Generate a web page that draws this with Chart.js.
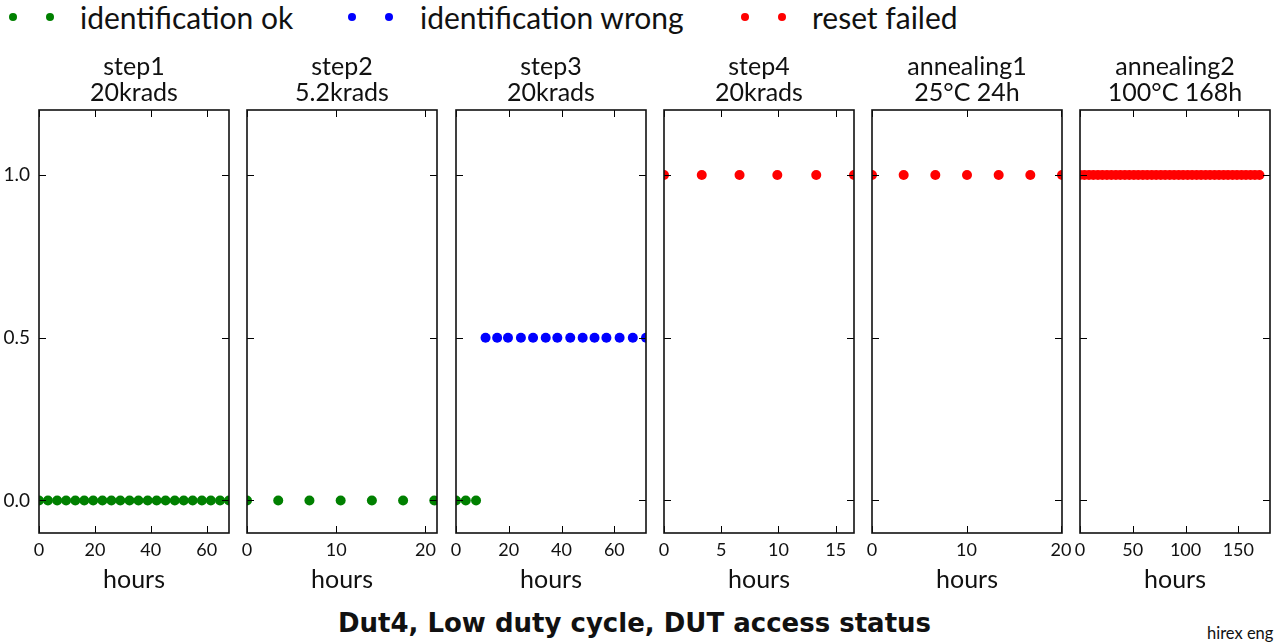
<!DOCTYPE html>
<html>
<head>
<meta charset="utf-8">
<script src="https://cdn.jsdelivr.net/npm/chart.js@4.4.1/dist/chart.umd.min.js"></script>
<style>
body { margin: 0; background: #fff; font-family: Lato, sans-serif; }
#fig { position: relative; width: 1279px; height: 642px; overflow: hidden; background: #fff; }
#fig canvas { position: absolute; top: 0; }
.dot { position: absolute; width: 8px; height: 8px; border-radius: 50%; top: 13px; }
.lt { position: absolute; top: 0px; font-size: 30px; line-height: 34px; color: #111; white-space: nowrap; }
#suptitle { position: absolute; left: 0; width: 1269px; top: 606px; text-align: center; font-family: 'DejaVu Sans', sans-serif; font-weight: bold; font-size: 26px; line-height: 34px; color: #111; }
#note { position: absolute; left: 1207px; top: 623px; font-size: 16.5px; line-height: 20px; color: #111; }
</style>
</head>
<body>
<div id="fig">
  <div id="suptitle">Dut4, Low duty cycle, DUT access status</div>
  <div id="note">hirex eng</div>
</div>
<script>
// status levels: 0 = identification ok, 0.5 = identification wrong, 1 = reset failed
var statusNames = ['identification ok', 'identification wrong', 'reset failed'];
var statusLevels = [0, 0.5, 1];
var statusColors = ['#008000', '#0000ff', '#ff0000'];

var panelTitles = [['step1', '20krads'], ['step2', '5.2krads'], ['step3', '20krads'],
                   ['step4', '20krads'], ['annealing1', '25°C 24h'], ['annealing2', '100°C 168h']];

var step1Hours = [0, 3.2, 6.5, 9.7, 13, 16.2, 19.4, 22.7, 25.9, 29.1, 32.4, 35.6, 38.9, 42.1, 45.3, 48.6, 51.8, 55, 58.3, 61.5, 64.8, 68];
var step1Status = [0, 0, 0, 0, 0, 0, 0, 0, 0, 0, 0, 0, 0, 0, 0, 0, 0, 0, 0, 0, 0, 0];

var step2Hours = [0, 3.5, 7, 10.5, 14, 17.5, 21];
var step2Status = [0, 0, 0, 0, 0, 0, 0];

var step3Hours = [0, 3.7, 7.6, 11.2, 15.6, 19.7, 24.6, 29.2, 34, 38.4, 43.3, 48, 52.5, 57, 62, 67, 72];
var step3Status = [0, 0, 0, 0.5, 0.5, 0.5, 0.5, 0.5, 0.5, 0.5, 0.5, 0.5, 0.5, 0.5, 0.5, 0.5, 0.5];

var step4Hours = [0, 3.3, 6.6, 9.9, 13.3, 16.6];
var step4Status = [1, 1, 1, 1, 1, 1];

var anneal1Hours = [0, 3.35, 6.7, 10.05, 13.4, 16.75, 20.1];
var anneal1Status = [1, 1, 1, 1, 1, 1, 1];

var anneal2Hours = [0, 4.2, 8.5, 12.7, 17, 21.2, 25.5, 29.7, 34, 38.2, 42.5, 46.7, 51, 55.2, 59.5, 63.7, 68, 72.2, 76.5, 80.7,
                    85, 89.2, 93.5, 97.7, 102, 106.2, 110.5, 114.7, 119, 123.2, 127.5, 131.7, 136, 140.2, 144.5, 148.7, 153, 157.2, 161.5, 165.7, 170];
var anneal2Status = [1, 1, 1, 1, 1, 1, 1, 1, 1, 1, 1, 1, 1, 1, 1, 1, 1, 1, 1, 1,
                     1, 1, 1, 1, 1, 1, 1, 1, 1, 1, 1, 1, 1, 1, 1, 1, 1, 1, 1, 1, 1];

var panelHours = [step1Hours, step2Hours, step3Hours, step4Hours, anneal1Hours, anneal2Hours];
var panelStatus = [step1Status, step2Status, step3Status, step4Status, anneal1Status, anneal2Status];
var xMax = [68, 21.3, 72, 16.6, 20.1, 180];
var xTicks = [[0, 20, 40, 60], [0, 10, 20], [0, 20, 40, 60], [0, 5, 10, 15], [0, 10, 20], [0, 50, 100, 150]];
var yTicks = [0, 0.5, 1];

var panelLeft = [39, 247, 456, 664, 872, 1080];
var panelWidth = 190;
var FONT = "Lato, sans-serif";

var fig = document.getElementById('fig');

// legend, two markers per entry like matplotlib
var legDots = [[13, 50], [352, 389], [745, 782]];
var legText = [80, 420, 812];
statusNames.forEach(function (name, i) {
    legDots[i].forEach(function (cx) {
        var d = document.createElement('div');
        d.className = 'dot';
        d.style.left = (cx - 4) + 'px';
        d.style.background = statusColors[i];
        fig.appendChild(d);
    });
    var t = document.createElement('div');
    t.className = 'lt';
    t.style.left = legText[i] + 'px';
    t.textContent = name;
    fig.appendChild(t);
});

// frame with inward ticks on all four sides
var frameTicks = {
    id: 'frameTicks',
    afterDraw: function (chart) {
        var ctx = chart.ctx, a = chart.chartArea, x = chart.scales.x, y = chart.scales.y;
        ctx.save();
        ctx.strokeStyle = '#000';
        ctx.lineWidth = 1;
        ctx.beginPath();
        x.ticks.forEach(function (t) {
            var px = Math.round(x.getPixelForValue(t.value)) + 0.5;
            ctx.moveTo(px, a.bottom); ctx.lineTo(px, a.bottom - 7);
            ctx.moveTo(px, a.top); ctx.lineTo(px, a.top + 7);
        });
        y.ticks.forEach(function (t) {
            var py = Math.round(y.getPixelForValue(t.value)) + 0.5;
            ctx.moveTo(a.left, py); ctx.lineTo(a.left + 7, py);
            ctx.moveTo(a.right, py); ctx.lineTo(a.right - 7, py);
        });
        ctx.stroke();
        ctx.lineWidth = 1.6;
        ctx.strokeStyle = '#111';
        ctx.strokeRect(a.left, a.top, a.right - a.left, a.bottom - a.top);
        ctx.restore();
    }
};

panelHours.forEach(function (hours, p) {
    var cv = document.createElement('canvas');
    cv.width = panelWidth + 80;
    cv.height = 642;
    cv.style.left = (panelLeft[p] - 40) + 'px';
    fig.appendChild(cv);

    var datasets = [];
    statusLevels.forEach(function (lvl, s) {
        var pts = [];
        hours.forEach(function (h, k) {
            if (panelStatus[p][k] === lvl) pts.push({ x: h, y: lvl });
        });
        if (pts.length) {
            datasets.push({
                label: statusNames[s],
                data: pts,
                backgroundColor: statusColors[s],
                borderColor: statusColors[s],
                borderWidth: 0,
                pointRadius: 5,
                clip: 0
            });
        }
    });

    new Chart(cv.getContext('2d'), {
        type: 'scatter',
        data: { datasets: datasets },
        options: {
            responsive: false,
            animation: false,
            layout: { padding: { left: 0, right: 40, top: 0, bottom: 0 } },
            plugins: {
                legend: { display: false },
                tooltip: { enabled: false },
                title: {
                    display: true,
                    fullSize: false,
                    text: panelTitles[p],
                    color: '#111',
                    font: { family: FONT, size: 25, weight: 'normal', lineHeight: 1.04 },
                    padding: { top: 54, bottom: 4 }
                }
            },
            scales: {
                x: {
                    type: 'linear',
                    min: 0,
                    max: xMax[p],
                    grid: { display: false, drawTicks: false },
                    border: { display: false },
                    afterBuildTicks: function (s) { s.ticks = xTicks[p].map(function (v) { return { value: v }; }); },
                    afterFit: function (s) { s.height = 109; },
                    ticks: { color: '#111', padding: 6, maxRotation: 0, autoSkip: false,
                             font: { family: FONT, size: 18 } },
                    title: { display: true, text: 'hours', color: '#111',
                             font: { family: FONT, size: 25 }, padding: { top: 0, bottom: 47 } }
                },
                y: {
                    min: -0.1,
                    max: 1.2,
                    grid: { display: false, drawTicks: false },
                    border: { display: false },
                    afterBuildTicks: function (s) { s.ticks = yTicks.map(function (v) { return { value: v }; }); },
                    afterFit: function (s) { s.width = 40; },
                    ticks: { display: p === 0, color: '#111', padding: 9,
                             font: { family: FONT, size: 19 },
                             callback: function (v) { return Number(v).toFixed(1); } }
                }
            }
        },
        plugins: [frameTicks]
    });
});
</script>
</body>
</html>
